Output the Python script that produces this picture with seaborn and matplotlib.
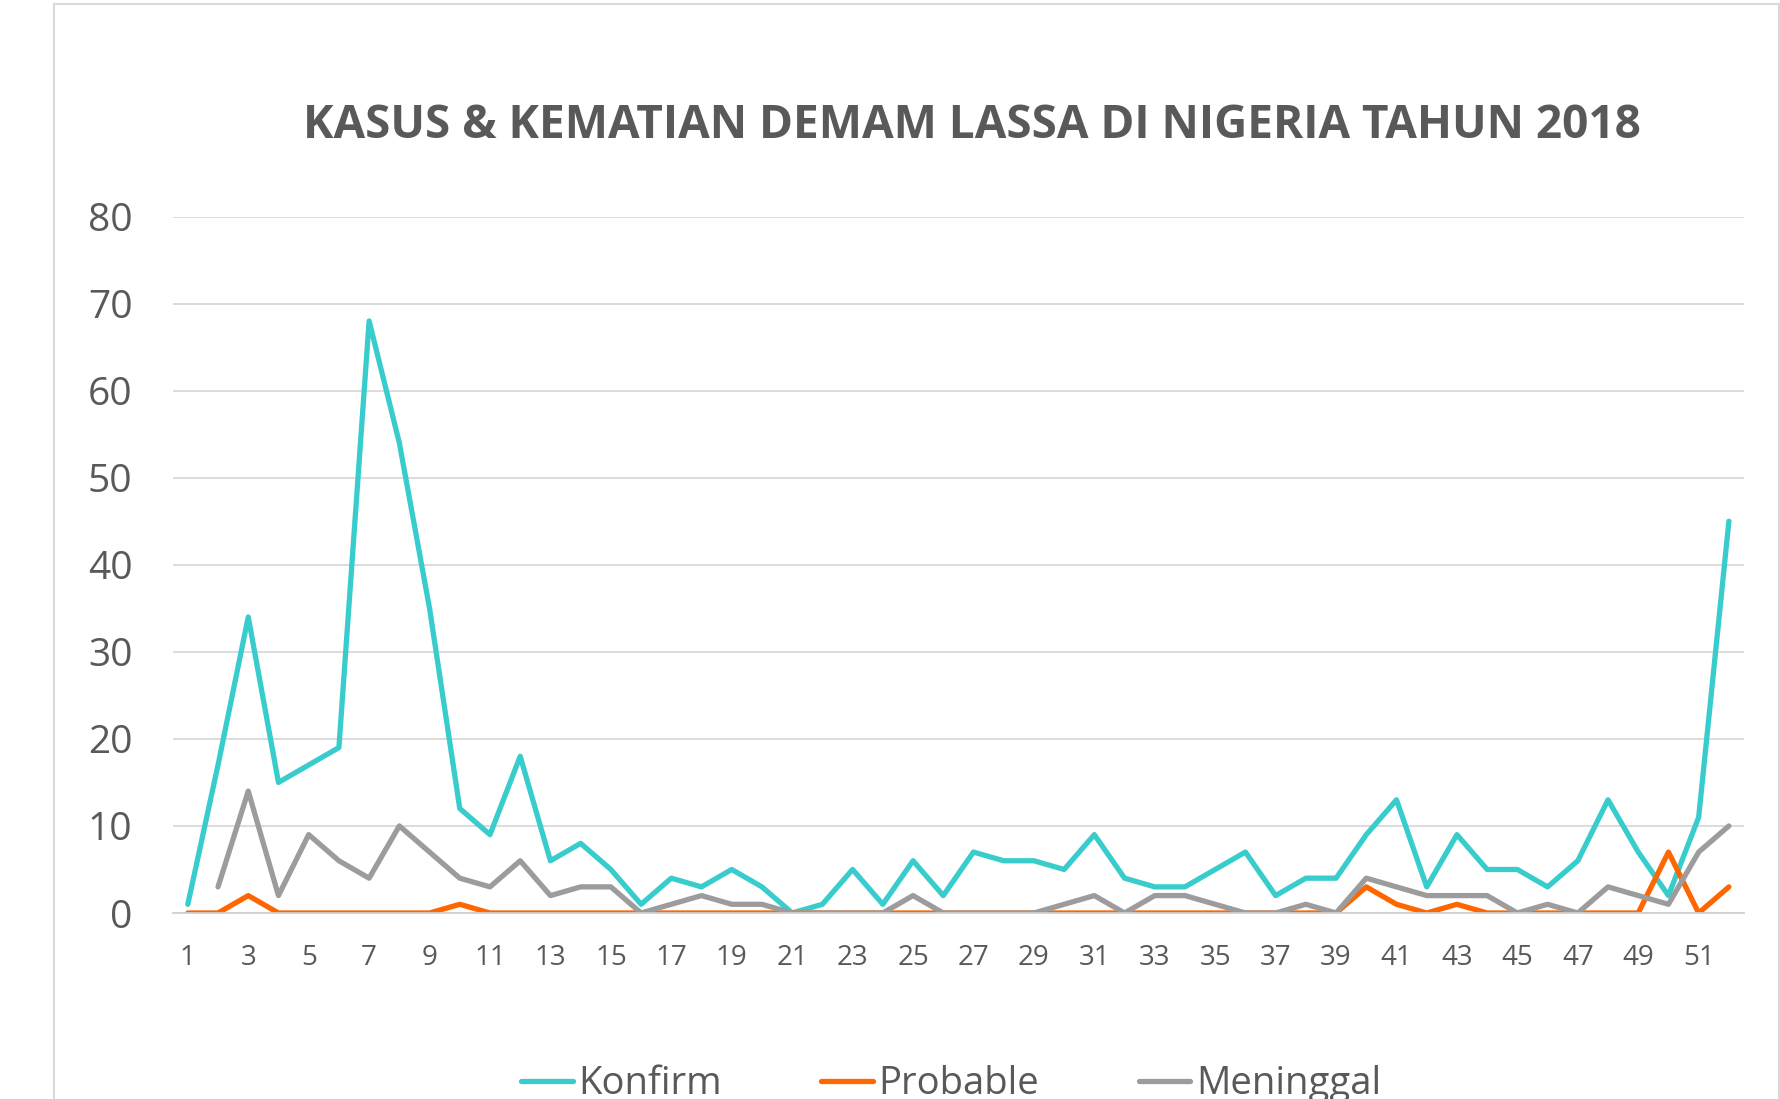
import numpy as np
import pandas as pd
import matplotlib
matplotlib.use("Agg")
import matplotlib.pyplot as plt
from matplotlib.lines import Line2D
import seaborn as sns

weeks = list(range(1, 53))
konfirm = [1, 17, 34, 15, 17, 19, 68, 54, 35, 12, 9, 18, 6, 8, 5, 1, 4, 3, 5, 3,
           0, 1, 5, 1, 6, 2, 7, 6, 6, 5, 9, 4, 3, 3, 5, 7, 2, 4, 4, 9,
           13, 3, 9, 5, 5, 3, 6, 13, 7, 2, 11, 45]
probable = [0, 0, 2, 0, 0, 0, 0, 0, 0, 1, 0, 0, 0, 0, 0, 0, 0, 0, 0, 0,
            0, 0, 0, 0, 0, 0, 0, 0, 0, 0, 0, 0, 0, 0, 0, 0, 0, 0, 0, 3,
            1, 0, 1, 0, 0, 0, 0, 0, 0, 7, 0, 3]
meninggal = [np.nan, 3, 14, 2, 9, 6, 4, 10, 7, 4, 3, 6, 2, 3, 3, 0, 1, 2, 1, 1,
             0, 0, 0, 0, 2, 0, 0, 0, 0, 1, 2, 0, 2, 2, 1, 0, 0, 1, 0, 4,
             3, 2, 2, 2, 0, 1, 0, 3, 2, 1, 7, 10]
series_names = ["Konfirm", "Probable", "Meninggal"]
colors = ["#38CCCC", "#FF6600", "#9C9C9C"]
title = "KASUS & KEMATIAN DEMAM LASSA DI NIGERIA TAHUN 2018"
yticks = [0, 10, 20, 30, 40, 50, 60, 70, 80]
xticks = list(range(1, 52, 2))

df = pd.DataFrame({
    "week": weeks * 3,
    "value": konfirm + probable + meninggal,
    "series": sum([[n] * len(weeks) for n in series_names], []),
})

sns.set_theme(style="white")
plt.rcParams["font.family"] = ["Open Sans", "DejaVu Sans"]
txt = "#595959"

W, H = 1780, 1099
fig = plt.figure(figsize=(W / 100, H / 100), dpi=100)
ax = fig.add_axes([172.7 / W, 1 - 913 / H, (1744 - 172.7) / W, (913 - 216.5) / H])

sns.lineplot(data=df, x="week", y="value", hue="series", palette=colors,
             hue_order=series_names, linewidth=3.8, ax=ax, legend=False,
             estimator=None, sort=True)
for ln in ax.lines:
    ln.set_solid_capstyle("round")
    ln.set_solid_joinstyle("round")

ax.set_xlim(0.5, 52.5)
ax.set_ylim(0, 80)
ax.set_yticks(yticks)
ax.set_xticks(xticks)
ax.set_xticklabels([str(x) for x in xticks], fontsize=20, color=txt)
ax.set_yticklabels([str(y) for y in yticks], fontsize=28, color=txt)
ax.tick_params(axis="y", length=0, pad=29)
ax.tick_params(axis="x", length=0, pad=22)
ax.set_xlabel("")
ax.set_ylabel("")
ax.grid(axis="y", color="#D9D9D9", linewidth=1.3)
ax.grid(axis="x", visible=False)
ax.set_axisbelow(True)
for s in ["left", "right", "top"]:
    ax.spines[s].set_visible(False)
ax.spines["bottom"].set_color("#D0D0D0")
ax.spines["bottom"].set_linewidth(1.3)

fig.text(972 / W, 1 - 126 / H, title, ha="center", va="center",
         fontsize=33, fontweight="bold", color=txt)

handles = [Line2D([0], [0], color=c, lw=3.8, solid_capstyle="round") for c in colors]
leg = fig.legend(handles, series_names, loc="center", bbox_to_anchor=(951 / W, 1 - 1084 / H),
                 ncol=3, frameon=False, fontsize=27.5, handlelength=1.35,
                 handletextpad=0.15, columnspacing=2.6, labelcolor=txt)

border = "#D9D9D9"
fig.add_artist(Line2D([54 / W, 54 / W], [0, 1 - 4 / H], color=border, lw=1.5))
fig.add_artist(Line2D([54 / W, 1779 / W], [1 - 4 / H, 1 - 4 / H], color=border, lw=1.5))
fig.add_artist(Line2D([1778.5 / W, 1778.5 / W], [0, 1 - 4 / H], color=border, lw=1.5))

fig.savefig("out.png", dpi=100, facecolor="white")
